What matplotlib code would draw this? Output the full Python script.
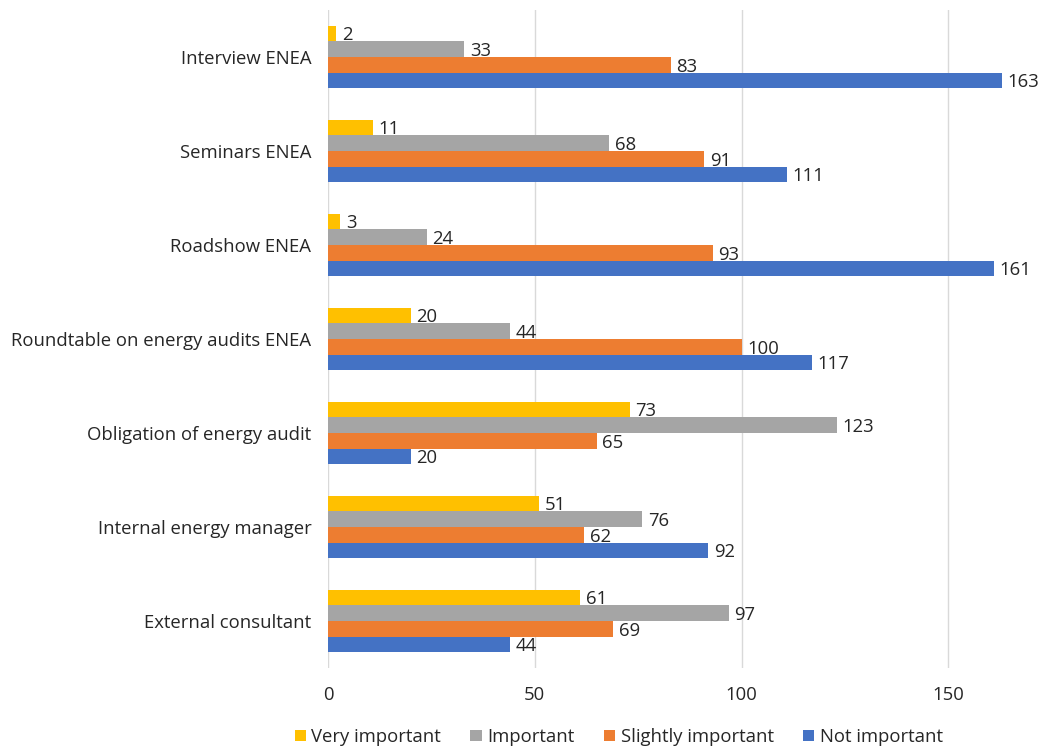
import matplotlib
matplotlib.use("Agg")
import matplotlib.pyplot as plt
import numpy as np

plt.rcParams['font.family'] = ['Open Sans', 'DejaVu Sans']

categories = ["Interview ENEA", "Seminars ENEA", "Roadshow ENEA",
              "Roundtable on energy audits ENEA", "Obligation of energy audit",
              "Internal energy manager", "External consultant"]
series_names = ["Very important", "Important", "Slightly important", "Not important"]
very_important = [2, 11, 3, 20, 73, 51, 61]
important = [33, 68, 24, 44, 123, 76, 97]
slightly_important = [83, 91, 93, 100, 65, 62, 69]
not_important = [163, 111, 161, 117, 20, 92, 44]
colors = ["#FFC000", "#A5A5A5", "#ED7D31", "#4472C4"]
xticks = [0, 50, 100, 150]

series = [very_important, important, slightly_important, not_important]

W, H = 1045, 747
fs = 13.3
fig = plt.figure(figsize=(W / 100, H / 100), dpi=100)
left, right, top, bottom = 328, 1031, 10, 668
ax = fig.add_axes([left / W, 1 - bottom / H, (right - left) / W, (bottom - top) / H])

n = len(categories)
y = np.arange(n)
bh = 0.166
for i, (vals, c, name) in enumerate(zip(series, colors, series_names)):
    pos = y + (i - 1.5) * bh
    ax.barh(pos, vals, height=bh, color=c, label=name, zorder=3)
    for p, v in zip(pos, vals):
        ax.text(v + 1.3, p + 0.02, str(v), va='center', ha='left', fontsize=fs,
                color='#262626', zorder=4)

ax.set_ylim(n - 0.5, -0.5)
ax.set_xlim(0, 170)
ax.set_yticks(y)
ax.set_yticklabels(categories, fontsize=fs, color='#262626')
ax.set_xticks(xticks)
ax.set_xticklabels([str(t) for t in xticks], fontsize=fs, color='#262626')
ax.tick_params(axis='both', length=0)
ax.tick_params(axis='y', pad=12)
ax.tick_params(axis='x', pad=13)
ax.grid(axis='x', color='#D9D9D9', linewidth=1, zorder=0)
for s in ax.spines.values():
    s.set_visible(False)

handles, labels = ax.get_legend_handles_labels()
leg = fig.legend(handles, labels, loc='center', bbox_to_anchor=(0.592, 1 - 737 / H),
                 ncol=4, frameon=False, fontsize=fs, handlelength=0.6, handleheight=0.6,
                 handletextpad=0.3, columnspacing=1.6)
for t in leg.get_texts():
    t.set_color('#262626')

fig.savefig("out.png", dpi=100)
